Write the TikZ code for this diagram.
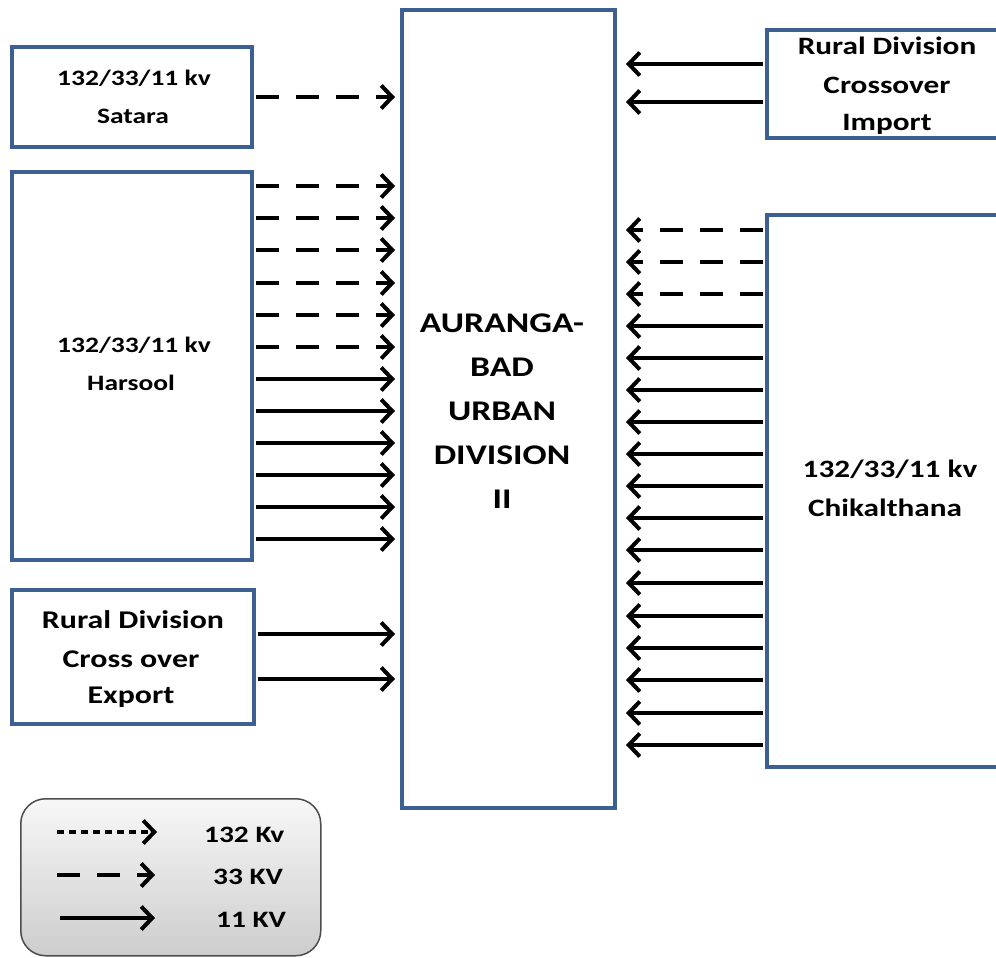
\documentclass[tikz,border=0pt]{standalone}
\usepackage{fontspec}
\setmainfont[FakeStretch=1.25]{Carlito}
\usetikzlibrary{arrows.meta}
\definecolor{boxblue}{RGB}{60,96,146}
\definecolor{legfill}{RGB}{205,205,205}
\newcommand{\fsz}[1]{\bfseries\fontsize{#1}{38.5}\selectfont}
\tikzset{
  box/.style={draw=boxblue, line width=4pt, fill=white, inner sep=0pt, align=center, anchor=north west},
  lbl/.style={inner sep=0pt, align=center, font=\fsz{22}},
  feed/.style={line width=3.8pt, -{Straight Barb[length=11pt,width=23pt,line width=4pt]}},
  kv33/.style={feed, dash pattern=on 23pt off 17pt},
  kv132/.style={feed, dash pattern=on 7pt off 5pt},
}
\begin{document}
\begin{tikzpicture}[x=1pt,y=-1pt]
\clip (0,0) rectangle (996,958);
\fill[white] (0,0) rectangle (996,958);
% boxes
\node[box, minimum width=240pt, minimum height=100pt] (sat) at (10,45) {};
\node[lbl] at (134,78) {132/33/11 kv};
\node[lbl] at (133,116) {Satara};
\node[box, minimum width=240pt, minimum height=388pt] (har) at (10,170) {};
\node[lbl] at (134,345) {132/33/11 kv};
\node[lbl] at (131,383) {Harsool};
\node[box, minimum width=242pt, minimum height=134pt] (exp) at (10,588) {};
\node[lbl, font=\fsz{25.5}] at (133,620) {Rural Division};
\node[lbl, font=\fsz{25.5}] at (131,659) {Cross over};
\node[lbl, font=\fsz{25.5}] at (131,697) {Export};
\node[box, minimum width=213pt, minimum height=798pt] (main) at (400,8) {};
\node[lbl, font=\bfseries\fontsize{28.5}{44}\selectfont] at (502,411) {AURANGA-\\BAD\\URBAN\\DIVISION\\II};
\node[box, minimum width=250pt, minimum height=108pt] (imp) at (765,28) {};
\node[lbl, font=\fsz{25}] at (887,46) {Rural Division};
\node[lbl, font=\fsz{25}] at (887,85) {Crossover};
\node[lbl, font=\fsz{25}] at (887,124) {Import};
\node[box, minimum width=250pt, minimum height=552pt] (chi) at (765,213) {};
\node[lbl, font=\fsz{25}] at (890,469) {132/33/11 kv};
\node[lbl, font=\fsz{25}] at (885,508) {Chikalthana};
% left feeders
\draw[kv33] ([xshift=2pt]sat.east |- 0,97) -- ([xshift=-5pt]main.west |- 0,97);
\foreach \y in {186,218,250,283,315,347}
  \draw[kv33] ([xshift=2pt]har.east |- 0,\y) -- ([xshift=-5pt]main.west |- 0,\y);
\foreach \y in {379,411,443,475,507,539}
  \draw[feed] ([xshift=2pt]har.east |- 0,\y) -- ([xshift=-5pt]main.west |- 0,\y);
\foreach \y in {634,679}
  \draw[feed] ([xshift=2pt]exp.east |- 0,\y) -- ([xshift=-5pt]main.west |- 0,\y);
% right feeders
\foreach \y in {64,102}
  \draw[feed] ([xshift=-2pt]imp.west |- 0,\y) -- ([xshift=9pt]main.east |- 0,\y);
\foreach \y in {230,262,294}
  \draw[kv33] ([xshift=-2pt]chi.west |- 0,\y) -- ([xshift=9pt]main.east |- 0,\y);
\foreach \y in {326,358,390,422,454,486,518,550,583,616,648,680,713,745}
  \draw[feed] ([xshift=-2pt]chi.west |- 0,\y) -- ([xshift=9pt]main.east |- 0,\y);
% legend
\node[draw=black!70, line width=1.5pt, rounded corners=25pt, top color=white!97!black, bottom color=legfill,
  minimum width=300pt, minimum height=157pt, anchor=north west] (leg) at (20,798) {};
\coordinate (l1s) at (57,832); \coordinate (l1e) at (157,832);
\coordinate (l2s) at (57,875); \coordinate (l2e) at (155,875);
\coordinate (l3s) at (60,918); \coordinate (l3e) at (155,918);
\draw[kv132] (l1s) -- (l1e);
\draw[kv33] (l2s) -- (l2e);
\draw[feed] (l3s) -- (l3e);
\node[lbl, font=\fsz{23.5}, anchor=west] at (204,835) {132 Kv};
\node[lbl, font=\fsz{23.5}, anchor=west] at (213,877) {33 KV};
\node[lbl, font=\fsz{23.5}, anchor=west] at (216,920) {11 KV};
\end{tikzpicture}
\end{document}
